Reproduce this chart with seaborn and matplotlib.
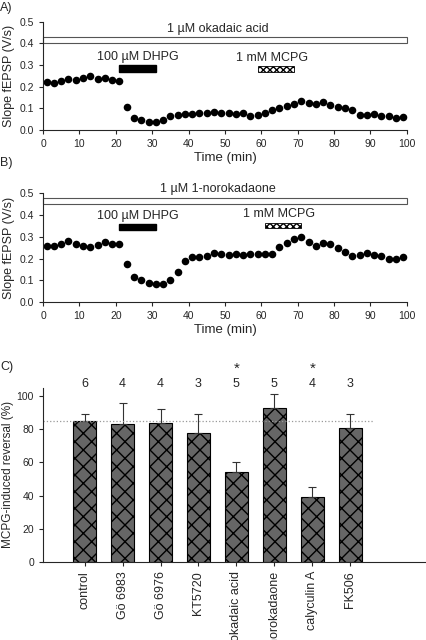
import matplotlib
matplotlib.use("Agg")
import matplotlib.pyplot as plt
import numpy as np
import pandas as pd
import seaborn as sns
from matplotlib.patches import Rectangle

sns.set_style("ticks")
plt.rcParams['font.family'] = ['Liberation Sans', 'DejaVu Sans']
plt.rcParams['hatch.linewidth'] = 1.0

# panel A / B: time points (min) and fEPSP slopes (V/s)
zeit = list(range(1, 100, 2))
slope_a = [0.222, 0.217, 0.227, 0.235, 0.230, 0.238, 0.247, 0.237, 0.240, 0.232,
           0.227, 0.104, 0.057, 0.044, 0.037, 0.036, 0.048, 0.065, 0.070, 0.075,
           0.074, 0.077, 0.077, 0.083, 0.077, 0.077, 0.075, 0.077, 0.064, 0.070,
           0.077, 0.093, 0.100, 0.110, 0.122, 0.132, 0.126, 0.120, 0.127, 0.113,
           0.107, 0.100, 0.090, 0.070, 0.070, 0.075, 0.063, 0.063, 0.055, 0.060]
slope_b = [0.260, 0.258, 0.267, 0.280, 0.265, 0.256, 0.255, 0.263, 0.278, 0.267,
           0.265, 0.177, 0.115, 0.100, 0.087, 0.083, 0.083, 0.100, 0.140, 0.190,
           0.205, 0.205, 0.213, 0.225, 0.222, 0.218, 0.220, 0.215, 0.222, 0.220,
           0.220, 0.220, 0.252, 0.270, 0.290, 0.297, 0.275, 0.258, 0.272, 0.265,
           0.250, 0.230, 0.210, 0.215, 0.225, 0.218, 0.212, 0.200, 0.200, 0.205]

# panel C
grupy = ['control', 'Gö 6983', 'Gö 6976', 'KT5720', 'okadaic acid',
         '1-norokadaone', 'calyculin A', 'FK506']
reversal = [85, 83, 84, 78, 54.5, 93, 39, 81]
sem = [4.5, 13, 8, 11, 6, 8, 6, 8]
n_cells = ['6', '4', '4', '3', '5', '5', '4', '3']
gwiazdka = ['', '', '', '', '*', '', '*', '']

fig = plt.figure(figsize=(4.26, 6.4), dpi=100)
axA = fig.add_axes([0.101, 0.797, 0.854, 0.169])
axB = fig.add_axes([0.101, 0.528, 0.854, 0.170])
axC = fig.add_axes([0.101, 0.122, 0.899, 0.272])


def panel(ax, y, drug, box_y, text_y, dhpg_y, mcpg_x, mcpg_y):
    sns.scatterplot(x=zeit, y=y, ax=ax, color='black', s=30, edgecolor='black',
                    linewidth=0, legend=False)
    ax.set_xlim(0, 100)
    ax.set_ylim(0, 0.5)
    ax.set_xticks(range(0, 101, 10))
    ax.set_yticks(np.arange(0, 0.51, 0.1))
    ax.set_yticklabels(['0.0', '0.1', '0.2', '0.3', '0.4', '0.5'])
    ax.tick_params(labelsize=7.5, length=3, width=0.8)
    ax.set_xlabel('Time (min)', fontsize=9.5, labelpad=2)
    ax.set_ylabel('Slope fEPSP (V/s)', fontsize=9, labelpad=3)
    sns.despine(ax=ax)
    # drug bar across the whole recording
    ax.add_patch(Rectangle((0, box_y), 100, 0.03, facecolor='white',
                           edgecolor='#555555', lw=0.8, clip_on=False))
    ax.text(48, text_y, drug, ha='center', va='bottom', fontsize=9,
            clip_on=False)
    ax.add_patch(Rectangle((21, dhpg_y), 10, 0.03, facecolor='black',
                           edgecolor='black', clip_on=False))
    ax.text(26, dhpg_y + 0.04, '100 µM DHPG', ha='center', va='bottom',
            fontsize=9)
    ax.add_patch(Rectangle((mcpg_x, mcpg_y), 10, 0.025, facecolor='white',
                           edgecolor='black', lw=0.6, hatch='xxxxx'))
    ax.text(mcpg_x + 4, mcpg_y + 0.035, '1 mM MCPG', ha='center', va='bottom',
            fontsize=9)


panel(axA, slope_a, '1 µM okadaic acid', 0.40, 0.44, 0.27, 59, 0.27)
panel(axB, slope_b, '1 µM 1-norokadaone', 0.45, 0.49, 0.33, 61, 0.34)

fig.text(0.0, 0.987, 'A)', fontsize=9, va='center')
fig.text(0.0, 0.745, 'B)', fontsize=9, va='center')
fig.text(0.0, 0.427, 'C)', fontsize=9, va='center')

# panel C bars
df = pd.DataFrame({'grupa': grupy, 'rev': reversal})
sns.barplot(data=df, x='grupa', y='rev', ax=axC, color='#666666',
            width=0.6, errorbar=None, saturation=1)
for p in axC.patches:
    p.set_hatch('xx')
    p.set_edgecolor('black')
    p.set_linewidth(0.8)
x = np.arange(len(grupy))
axC.errorbar(x, reversal, yerr=[np.zeros(len(sem)), sem], fmt='none',
             ecolor='#333333', elinewidth=0.8, capsize=3, capthick=0.8)
axC.hlines(85, -1.1, 7.6, colors='#999999', linestyles=':', lw=0.9)
for i in range(len(grupy)):
    axC.text(i, 103.5, n_cells[i], ha='center', va='bottom', fontsize=9,
             clip_on=False)
    if gwiazdka[i]:
        axC.text(i, 112.5, gwiazdka[i], ha='center', va='bottom',
                 fontsize=11, clip_on=False)
axC.set_xlim(-1.1, 9.0)
axC.set_ylim(0, 105)
axC.set_yticks(range(0, 101, 20))
axC.tick_params(axis='y', labelsize=7.5, length=3, width=0.8)
axC.tick_params(axis='x', labelsize=9, length=3, width=0.8, rotation=90)
axC.set_xlabel('')
axC.set_ylabel('MCPG-induced reversal (%)', fontsize=8.5, labelpad=2)
sns.despine(ax=axC)

fig.savefig('out.png', dpi=100)
